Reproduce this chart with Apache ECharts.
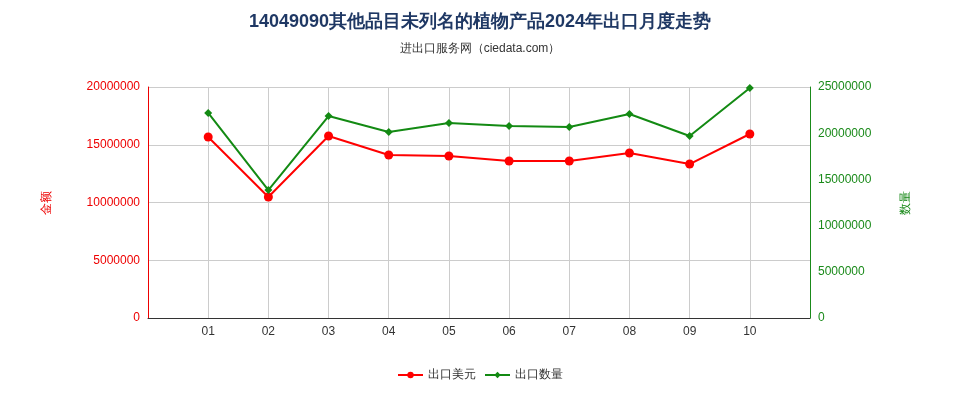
<!DOCTYPE html><html><head><meta charset="utf-8"><script src="https://cdn.jsdelivr.net/npm/echarts@6/dist/echarts.min.js"></script></head><body style="margin:0"><div id="c" style="width:960px;height:400px"></div><script>
const categories=['','01','02','03','04','05','06','07','08','09','10',''];
const valueUSD=[null,15670000,10480000,15760000,14110000,14030000,13590000,13590000,14290000,13330000,15930000,null];
const quantity=[null,22190000,13850000,21860000,20130000,21100000,20780000,20670000,22080000,19700000,24890000,null];
const c=echarts.init(document.getElementById('c'));
const fmt=v=>String(v);
c.setOption({
title:{text:'14049090其他品目未列名的植物产品2024年出口月度走势',subtext:'进出口服务网（ciedata.com）',left:'center',top:8,textStyle:{fontSize:18,fontWeight:'bold',color:'#1f3864'},subtextStyle:{fontSize:12,color:'#333'},itemGap:12},
legend:{bottom:14,data:['出口美元','出口数量'],itemWidth:25,itemHeight:8,textStyle:{fontSize:12,color:'#333'}},
grid:{left:148,right:150,top:87,bottom:82},
xAxis:{type:'category',data:categories,boundaryGap:false,axisTick:{show:false},axisLabel:{color:'#333'},splitLine:{show:true,lineStyle:{color:'#ccc'}},axisLine:{lineStyle:{color:'#333'}}},
yAxis:[{type:'value',name:'金额',nameLocation:'middle',nameGap:95,nameTextStyle:{color:'#e00'},min:0,max:20000000,interval:5000000,axisLine:{show:true,lineStyle:{color:'#e00'}},axisLabel:{color:'#e00',formatter:fmt},splitLine:{lineStyle:{color:'#ccc'}}},
{type:'value',name:'数量',nameLocation:'middle',nameGap:90,nameTextStyle:{color:'#1a8a1a'},min:0,max:25000000,interval:5000000,axisLine:{show:true,lineStyle:{color:'#1a8a1a'}},axisLabel:{color:'#1a8a1a',formatter:fmt},splitLine:{show:false}}],
series:[{name:'出口美元',type:'line',data:valueUSD,color:'#f00',symbol:'circle',symbolSize:9,lineStyle:{width:2}},
{name:'出口数量',type:'line',yAxisIndex:1,data:quantity,color:'#138a13',symbol:'diamond',symbolSize:8,lineStyle:{width:2}}]
});
</script></body></html>
